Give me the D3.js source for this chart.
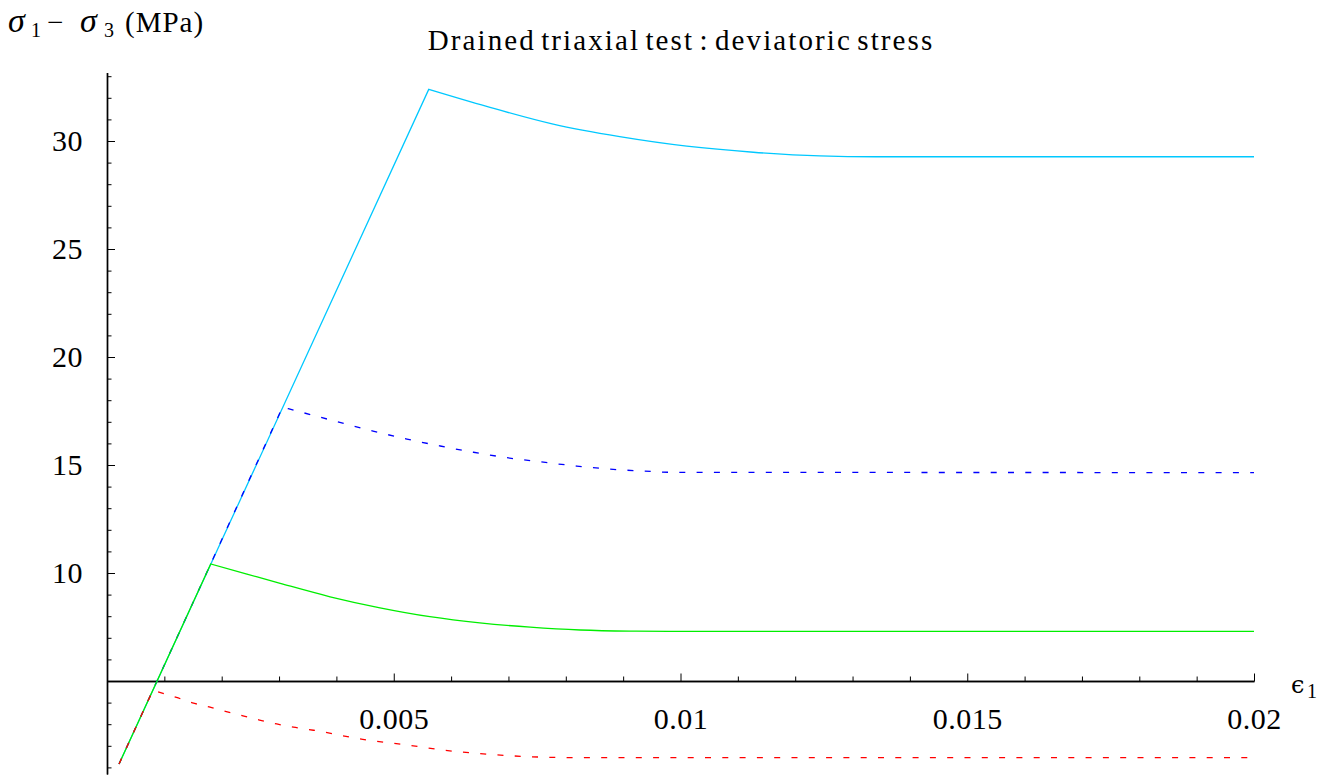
<!DOCTYPE html>
<html>
<head>
<meta charset="utf-8">
<script src="https://cdn.jsdelivr.net/npm/d3@7"></script>
<style>
  html, body { margin: 0; padding: 0; background: #fff; }
  svg { display: block; font-family: "Liberation Serif", "Times New Roman", serif; }
</style>
</head>
<body>
<svg id="chart" width="1332" height="780"></svg>
<script>
// Axial strain (ε1) and deviatoric stress (MPa) for the four drained runs.
// Each run: linear elastic rise to a peak, then softening to a residual plateau.
const cyanStrain  = [0.00021, 0.00561, 0.00662, 0.00778, 0.00894, 0.01011, 0.01127, 0.01243, 0.0134, 0.02];
const cyanStress  = [1.16, 32.39, 31.60, 30.78, 30.20, 29.76, 29.48, 29.31, 29.27, 29.27];

const blueStrain  = [0.00021, 0.00306, 0.00402, 0.00464, 0.00523, 0.00581, 0.00639, 0.00697, 0.00761, 0.00819, 0.00877, 0.00935, 0.0099, 0.02];
const blueStress  = [1.16, 17.68, 17.00, 16.57, 16.20, 15.88, 15.59, 15.34, 15.13, 14.95, 14.81, 14.72, 14.66, 14.65];

const greenStrain = [0.00021, 0.001808, 0.00244, 0.00302, 0.00389, 0.00476, 0.00563, 0.0065, 0.00738, 0.00825, 0.00912, 0.0098, 0.02];
const greenStress = [1.16, 10.42, 9.95, 9.52, 8.90, 8.39, 7.98, 7.69, 7.49, 7.36, 7.31, 7.30, 7.30];

const redStrain   = [0.00021, 0.00080, 0.00121, 0.00149, 0.00178, 0.00208, 0.00237, 0.00266, 0.00296, 0.00325, 0.0036, 0.00446, 0.00534, 0.00586, 0.0065, 0.00709, 0.00767, 0.0083, 0.02];
const redStress   = [1.16, 4.57, 4.24, 3.99, 3.80, 3.58, 3.39, 3.19, 3.01, 2.86, 2.72, 2.30, 2.00, 1.80, 1.64, 1.53, 1.47, 1.45, 1.45];

// Axis ticks and labels
const xMajorTicks = [0.005, 0.01, 0.015, 0.02];
const xTickLabels = ["0.005", "0.01", "0.015", "0.02"];
const xMinorTicks = [0.001, 0.002, 0.003, 0.004, 0.006, 0.007, 0.008, 0.009, 0.011, 0.012, 0.013, 0.014, 0.016, 0.017, 0.018, 0.019];
const yMajorTicks = [10, 15, 20, 25, 30];
const yTickLabels = ["10", "15", "20", "25", "30"];
const yMinorTicks = [1, 2, 3, 4, 6, 7, 8, 9, 11, 12, 13, 14, 16, 17, 18, 19, 21, 22, 23, 24, 26, 27, 28, 29, 31, 32, 33];

const strainRange = [0, 0.02];
const stressRange = [0.7, 33.17];
const axisOrigin = [0, 5];

const svg = d3.select("#chart");

const x = d3.scaleLinear().domain([0, 0.02]).range([107, 1254]);
const y = d3.scaleLinear().domain([5, 30]).range([681, 141]);

const xAxisScale = x.copy().domain(strainRange).range(strainRange.map(x));
const yAxisScale = y.copy().domain(stressRange).range(stressRange.map(y));

// ---- axes ----
const gx = svg.append("g").attr("transform", `translate(0,${y(axisOrigin[1])})`);
gx.call(d3.axisBottom(xAxisScale).tickValues(xMinorTicks).tickFormat("").tickSizeInner(-4.5).tickSizeOuter(0));
gx.append("g").call(d3.axisBottom(xAxisScale).tickValues(xMajorTicks)
    .tickFormat((d, i) => xTickLabels[i]).tickSizeInner(-7.5).tickSizeOuter(0).tickPadding(27));

const gy = svg.append("g").attr("transform", `translate(${x(axisOrigin[0])},0)`);
gy.call(d3.axisLeft(yAxisScale).tickValues(yMinorTicks).tickFormat("").tickSizeInner(-4.5).tickSizeOuter(0));
gy.append("g").call(d3.axisLeft(yAxisScale).tickValues(yMajorTicks)
    .tickFormat((d, i) => yTickLabels[i]).tickSizeInner(-8).tickSizeOuter(0).tickPadding(24));

svg.selectAll(".domain").attr("stroke", "#000").attr("stroke-width", 1.4);
svg.selectAll(".tick line").attr("stroke", "#000").attr("stroke-width", 1);
svg.selectAll(".tick text")
  .attr("font-family", "Liberation Serif, Times New Roman, serif")
  .attr("font-size", 30).attr("letter-spacing", 0.5).attr("fill", "#000");

// ---- curves ----
function seriesPath(strain, stress, peakIndex) {
  const pts = strain.map((e, i) => [x(e), y(stress[i])]);
  const rise = d3.line().curve(d3.curveLinear)(pts.slice(0, peakIndex + 1));
  const soft = d3.line().curve(d3.curveMonotoneX)(pts.slice(peakIndex));
  return rise + "L" + soft.slice(1);
}

const series = [
  { strain: cyanStrain,  stress: cyanStress,  color: "#00c8ff", dash: null },
  { strain: blueStrain,  stress: blueStress,  color: "#0000ff", dash: "6,11.3" },
  { strain: greenStrain, stress: greenStress, color: "#00ee00", dash: null },
  { strain: redStrain,   stress: redStress,   color: "#ff0000", dash: "6,11.3" }
];

svg.append("g").selectAll("path").data(series).join("path")
  .attr("d", d => seriesPath(d.strain, d.stress, 1))
  .attr("fill", "none")
  .attr("stroke", d => d.color)
  .attr("stroke-width", 1.3)
  .attr("stroke-dasharray", d => d.dash);

// ---- texts ----
svg.append("text")
  .attr("x", 681).attr("y", 50)
  .attr("text-anchor", "middle")
  .attr("font-size", 29)
  .attr("letter-spacing", 2.1)
  .attr("word-spacing", -4)
  .text("Drained triaxial test : deviatoric stress");

// vertical axis label: σ1 − σ3 (MPa)
const yl = svg.append("text").attr("y", 32).attr("font-size", 29);
yl.append("tspan").attr("x", 8).attr("font-style", "italic").attr("font-size", 34).text("σ");
yl.append("tspan").attr("x", 31).attr("font-size", 20).attr("dy", 5).text("1");
yl.append("tspan").attr("x", 47).attr("dy", -5).text("−");
yl.append("tspan").attr("x", 80).attr("font-style", "italic").attr("font-size", 34).text("σ");
yl.append("tspan").attr("x", 104).attr("font-size", 20).attr("dy", 5).text("3");
yl.append("tspan").attr("x", 125).attr("dy", -5).attr("letter-spacing", 1).text("(MPa)");

// horizontal axis label: ϵ1
const xl = svg.append("text").attr("y", 693).attr("font-size", 30);
xl.append("tspan").attr("x", 1291).attr("font-family", "DejaVu Serif, serif").attr("font-size", 24).text("ϵ");
xl.append("tspan").attr("x", 1307).attr("font-size", 20).attr("dy", 5).text("1");
</script>
</body>
</html>
